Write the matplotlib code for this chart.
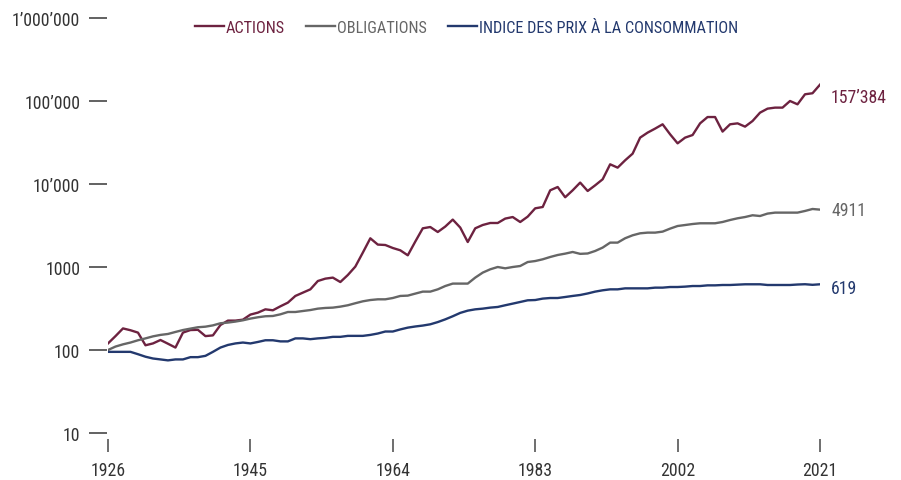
import numpy as np
import matplotlib
matplotlib.use("Agg")
import matplotlib.pyplot as plt
from matplotlib import font_manager
from matplotlib.ticker import FixedLocator, NullLocator

# pick a narrow face if one is installed
fonts = font_manager.fontManager.ttflist
names = {f.name for f in fonts}
fsize = 12.3
if 'Liberation Sans Narrow' in names:
    plt.rcParams['font.family'] = ['Liberation Sans Narrow', 'DejaVu Sans']
elif 'Roboto Condensed' in names:
    plt.rcParams['font.family'] = ['Roboto Condensed', 'DejaVu Sans']
elif any(f.name == 'DejaVu Sans' and f.stretch == 'condensed' for f in fonts):
    plt.rcParams['font.family'] = ['DejaVu Sans']
    plt.rcParams['font.stretch'] = 'condensed'
    fsize = 11
else:
    plt.rcParams['font.family'] = ['DejaVu Sans']
    fsize = 10

years = np.arange(1926, 2022)

actions = [
    120, 147, 182, 173, 162, 114, 120, 132, 119, 107,
    162, 174, 175, 147, 150, 200, 226, 226, 232, 267,
    282, 309, 301, 336, 372, 448, 491, 538, 678, 724,
    745, 659, 801, 1011, 1490, 2217, 1862, 1841, 1694, 1589,
    1383, 2024, 2925, 3033, 2640, 3070, 3725, 2985, 2000, 2925,
    3207, 3390, 3390, 3830, 4000, 3483, 4045, 5093, 5283, 8394,
    9200, 6920, 8394, 10400, 8240, 9640, 11400, 17270, 15740, 19300,
    23200, 36200, 41600, 46500, 52400, 39700, 30900, 36200, 38900, 53800,
    64100, 64100, 42800, 52400, 53800, 49100, 57400, 72400, 80900, 83200,
    83200, 100000, 91200, 120500, 124000, 157384,
]

obligations = [
    100, 110, 117, 123, 131, 138, 146, 152, 156, 165,
    174, 181, 188, 191, 198, 210, 214, 220, 228, 239,
    248, 255, 257, 269, 287, 287, 295, 303, 315, 321,
    324, 333, 346, 366, 386, 400, 408, 408, 423, 448,
    452, 478, 505, 505, 538, 590, 631, 631, 631, 745,
    856, 938, 1000, 964, 1000, 1028, 1148, 1180, 1238, 1320,
    1395, 1449, 1517, 1440, 1455, 1560, 1713, 1967, 1967, 2220,
    2410, 2547, 2595, 2595, 2668, 2900, 3118, 3205, 3296, 3363,
    3363, 3363, 3485, 3683, 3862, 4000, 4200, 4115, 4400, 4520,
    4520, 4520, 4520, 4733, 5000, 4911,
]

ipc = [
    95, 95, 95, 95, 89, 83, 79, 77, 75, 77,
    77, 82, 82, 85, 95, 107, 115, 120, 123, 120,
    125, 131, 131, 127, 127, 138, 138, 135, 138, 140,
    144, 144, 148, 148, 148, 152, 158, 167, 167, 177,
    186, 192, 197, 204, 217, 234, 255, 280, 298, 309,
    315, 324, 330, 346, 362, 379, 397, 400, 416, 423,
    423, 435, 448, 460, 480, 505, 524, 538, 538, 553,
    553, 553, 553, 564, 564, 574, 574, 580, 590, 590,
    601, 601, 607, 607, 613, 619, 619, 619, 607, 607,
    607, 607, 615, 620, 610, 619,
]

series_names = ['ACTIONS', 'OBLIGATIONS', 'INDICE DES PRIX À LA CONSOMMATION']
colors = ['#6d2240', '#666666', '#23396e']
end_labels = ['157\u2019384', '4911', '619']
end_offsets = [-9, 0, -3]

ytick_vals = [10, 100, 1000, 10000, 100000, 1000000]
ytick_labels = ['10', '100', '1000', '10\u2019000', '100\u2019000', '1\u2019000\u2019000']
xtick_vals = [1926, 1945, 1964, 1983, 2002, 2021]

fig = plt.figure(figsize=(9.01, 4.81), dpi=100)
ax = fig.add_axes([108 / 901, 47 / 481, 712 / 901, 415 / 481])

for vals, name, c, lab, off in zip([actions, obligations, ipc], series_names,
                                   colors, end_labels, end_offsets):
    ax.plot(years, vals, color=c, lw=1.7, label=name)
    ax.annotate(lab, xy=(years[-1], vals[-1]), xytext=(8, off),
                textcoords='offset points', va='center', ha='left',
                color=c, fontsize=fsize + 0.5)

ax.set_yscale('log')
ax.set_ylim(10, 1000000)
ax.set_xlim(1926, 2021)
ax.yaxis.set_major_locator(FixedLocator(ytick_vals))
ax.yaxis.set_minor_locator(NullLocator())
ax.set_yticklabels(ytick_labels)
ax.set_xticks(xtick_vals)
ax.set_xticklabels([str(y) for y in xtick_vals])

for s in ['top', 'right']:
    ax.spines[s].set_visible(False)
ax.spines['left'].set_position(('outward', 1))
ax.spines['bottom'].set_position(('outward', 4))
ax.spines['left'].set_visible(False)
ax.spines['bottom'].set_visible(False)

ax.tick_params(axis='y', length=13, width=1.3, color='#555555', pad=6,
               labelsize=fsize + 0.5, labelcolor='#333333')
ax.tick_params(axis='x', length=9, width=1.2, color='#555555', pad=7,
               labelsize=fsize + 0.5, labelcolor='#333333')

leg = ax.legend(loc='center', bbox_to_anchor=(0.503, 0.978), ncol=3,
                frameon=False, handlelength=1.8, handletextpad=0.1,
                columnspacing=1.3, fontsize=fsize - 0.6, labelcolor=colors)

fig.savefig('out.png', dpi=100)
